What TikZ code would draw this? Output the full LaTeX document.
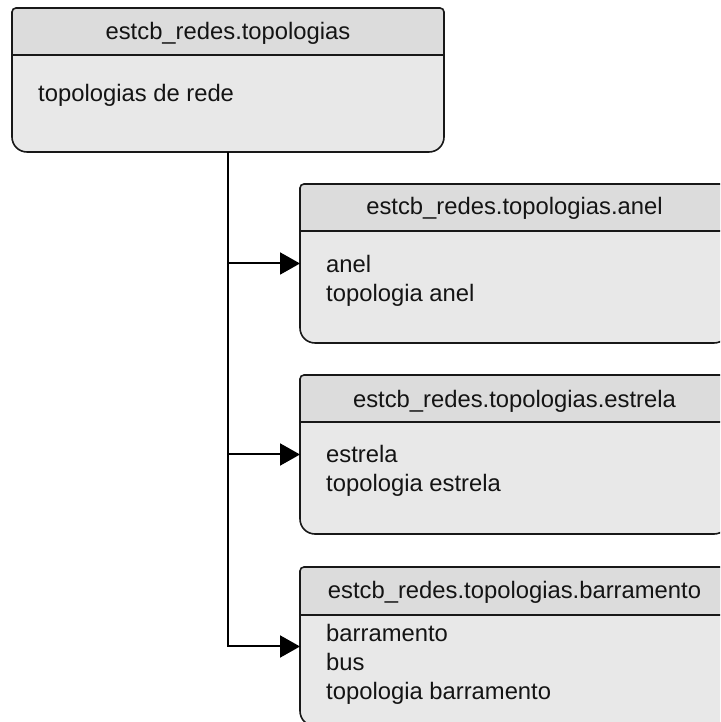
\documentclass[tikz,border=0pt]{standalone}
\usepackage{fontspec}
\setmainfont{Liberation Sans}
\usetikzlibrary{calc,arrows.meta}

\definecolor{headgray}{RGB}{220,220,220}
\definecolor{bodygray}{RGB}{232,232,232}
\definecolor{edgecol}{RGB}{24,24,24}
\definecolor{inkcol}{RGB}{20,20,20}

\newcommand\labelfont{\fontsize{23.8}{29}\selectfont}

\tikzset{
  boxnode/.style={rectangle, draw=none, inner sep=0pt, outer sep=0pt},
  headtext/.style={anchor=base, inner sep=0pt, font=\labelfont, text=inkcol},
  bodytext/.style={anchor=base west, inner sep=0pt, font=\labelfont, text=inkcol},
  edgeline/.style={draw=edgecol, line width=1.6pt},
  connline/.style={draw=black, line width=2pt, -{Triangle[length=20pt,width=22pt]}},
}

% outline of a class box: small radius on top, large radius at the bottom
\newcommand\boxoutline[1]{%
  ($(#1.north west)+(0,-4)$) arc[start angle=180,end angle=90,radius=4pt]
  -- ($(#1.north east)+(-4,0)$) arc[start angle=90,end angle=0,radius=4pt]
  -- ($(#1.south east)+(0,15)$) arc[start angle=0,end angle=-90,radius=15pt]
  -- ($(#1.south west)+(15,0)$) arc[start angle=270,end angle=180,radius=15pt]
  -- cycle}

% filled box with a grey title band of height #2
\newcommand\drawclassbox[2]{%
  \fill[bodygray] \boxoutline{#1};
  \fill[headgray] ($(#1.north west)+(0,-#2)$) -- ($(#1.north west)+(0,-4)$)
    arc[start angle=180,end angle=90,radius=4pt]
    -- ($(#1.north east)+(-4,0)$) arc[start angle=90,end angle=0,radius=4pt]
    -- ($(#1.north east)+(0,-#2)$) -- cycle;
  \draw[edgeline] \boxoutline{#1};
  \draw[edgeline] ($(#1.north west)+(0,-#2)$) -- ($(#1.north east)+(0,-#2)$);
}

\begin{document}
\begin{tikzpicture}[x=1pt,y=1pt]
  \useasboundingbox (0,0) rectangle (720,722);
  \clip (0,0) rectangle (720,722);

  % box frames
  \node[boxnode, minimum width=432pt, minimum height=144pt] (top)  at (228,642)   {};
  \node[boxnode, minimum width=429pt, minimum height=159pt] (anel) at (514.5,458.5) {};
  \node[boxnode, minimum width=429pt, minimum height=159pt] (estr) at (514.5,267.5) {};
  \node[boxnode, minimum width=429pt, minimum height=159pt] (barr) at (514.5,75.5)  {};

  \drawclassbox{top}{47}
  \drawclassbox{anel}{47}
  \drawclassbox{estr}{47}
  \drawclassbox{barr}{48}

  % titles
  \node[headtext] (top-title)  at ($(top.north)+(0,-32)$)  {estcb\_redes.topologias};
  \node[headtext] (anel-title) at ($(anel.north)+(0,-31)$) {estcb\_redes.topologias.anel};
  \node[headtext] (estr-title) at ($(estr.north)+(0,-33)$) {estcb\_redes.topologias.estrela};
  \node[headtext] (barr-title) at ($(barr.north)+(0,-32)$) {estcb\_redes.topologias.barramento};

  % attributes
  \node[bodytext] (top-body)  at ($(top.north west)+(26,-94)$)
    {\begin{tabular}[t]{@{}l@{}}topologias de rede\end{tabular}};
  \node[bodytext] (anel-body) at ($(anel.north west)+(26,-89)$)
    {\begin{tabular}[t]{@{}l@{}}anel\\topologia anel\end{tabular}};
  \node[bodytext] (estr-body) at ($(estr.north west)+(26,-88)$)
    {\begin{tabular}[t]{@{}l@{}}estrela\\topologia estrela\end{tabular}};
  \node[bodytext] (barr-body) at ($(barr.north west)+(26,-75)$)
    {\begin{tabular}[t]{@{}l@{}}barramento\\bus\\topologia barramento\end{tabular}};

  % connectors
  \draw[connline] (top.south) |- (barr.west);
  \draw[connline] (top.south |- anel.west) -- (anel.west);
  \draw[connline] (top.south |- estr.west) -- (estr.west);
\end{tikzpicture}
\end{document}
